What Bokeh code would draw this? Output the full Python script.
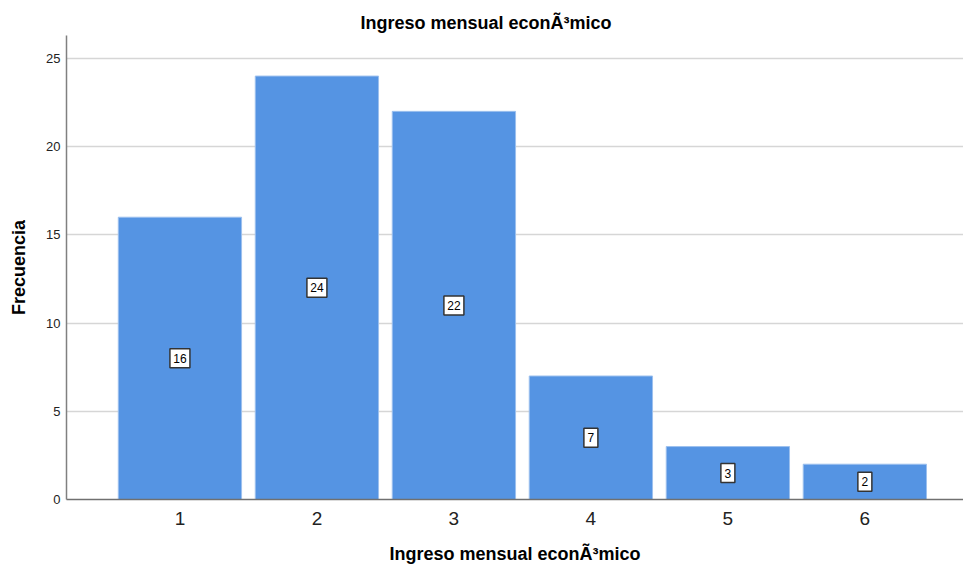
from bokeh.plotting import figure
from bokeh.models import ColumnDataSource, FixedTicker, Range1d, Title
from bokeh.core.properties import value
from bokeh.embed import file_html
from bokeh.resources import INLINE

# Frequency of each monthly income category
categories = [1, 2, 3, 4, 5, 6]
frequencies = [16, 24, 22, 7, 3, 2]
y_ticks = [0, 5, 10, 15, 20, 25]

labels = [str(v) for v in frequencies]
src = ColumnDataSource(dict(
    x=categories,
    top=frequencies,
    mid=[v / 2 for v in frequencies],
    lbl=labels,
    box_w=[8 + 6 * len(s) for s in labels],
))

FONT = "Liberation Sans"

p = figure(
    width=963, height=569,
    output_backend="svg", toolbar_location=None,
    x_range=Range1d(0.172, 6.72), y_range=Range1d(0, 26.3),
    min_border_left=66, min_border_right=0, min_border_top=35, min_border_bottom=70,
)
p.title = None
p.add_layout(Title(text="Ingreso mensual econÃ³mico", align="left", offset=294,
                   text_font=FONT, text_font_size="18px", text_font_style="bold",
                   text_color="#000000", standoff=5), "above")

p.outline_line_color = None
p.background_fill_color = "white"
p.border_fill_color = "white"

p.vbar(x="x", top="top", width=0.9, source=src,
       fill_color="#5594e3", line_color="#9cc0ee", line_width=1)

# value boxes at mid-height of each bar
p.rect(x="x", y="mid", width="box_w", height=19, width_units="screen", height_units="screen",
       source=src, fill_color="white", line_color="#333333", line_width=1.5)
p.text(x="x", y="mid", text="lbl", source=src,
       text_align="center", text_baseline="middle",
       text_font=value(FONT), text_font_size="12px", text_color="#000000")

# grid
p.xgrid.grid_line_color = None
p.ygrid.grid_line_color = "#d6d6d6"
p.ygrid.grid_line_width = 1.5
p.ygrid.ticker = FixedTicker(ticks=y_ticks)

# x axis
p.xaxis.ticker = FixedTicker(ticks=categories)
p.xaxis.axis_label = "Ingreso mensual econÃ³mico"
p.xaxis.axis_label_text_font = FONT
p.xaxis.axis_label_text_font_size = "18px"
p.xaxis.axis_label_text_font_style = "bold"
p.xaxis.axis_label_text_color = "#000000"
p.xaxis.axis_label_standoff = 16
p.xaxis.major_label_text_font = FONT
p.xaxis.major_label_text_font_size = "19px"
p.xaxis.major_label_text_color = "#222222"
p.xaxis.major_label_standoff = 12
p.xaxis.major_tick_out = 0
p.xaxis.major_tick_in = 0
p.xaxis.minor_tick_out = 0
p.xaxis.minor_tick_in = 0
p.xaxis.axis_line_color = "#707070"
p.xaxis.axis_line_width = 1.5

# y axis
p.yaxis.ticker = FixedTicker(ticks=y_ticks)
p.yaxis.axis_label = "Frecuencia"
p.yaxis.axis_label_text_font = FONT
p.yaxis.axis_label_text_font_size = "18px"
p.yaxis.axis_label_text_font_style = "bold"
p.yaxis.axis_label_text_color = "#000000"
p.yaxis.axis_label_standoff = 14
p.yaxis.major_label_text_font = FONT
p.yaxis.major_label_text_font_size = "13px"
p.yaxis.major_label_text_color = "#222222"
p.yaxis.major_label_standoff = 6
p.yaxis.major_tick_out = 0
p.yaxis.major_tick_in = 0
p.yaxis.minor_tick_out = 0
p.yaxis.minor_tick_in = 0
p.yaxis.axis_line_color = "#808080"
p.yaxis.axis_line_width = 1.5

open("out.html", "w").write(file_html(p, INLINE))
